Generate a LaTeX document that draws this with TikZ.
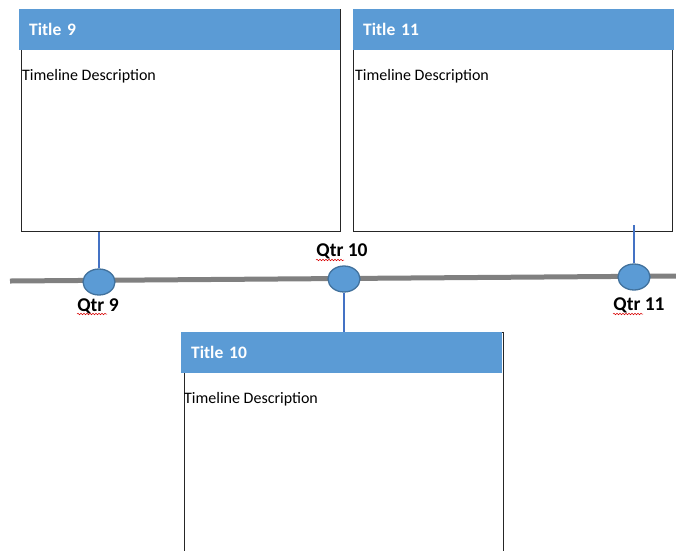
\documentclass[tikz,border=0pt]{standalone}
\usepackage{fontspec}
\setmainfont{Carlito}
\usetikzlibrary{shapes.geometric,decorations.pathmorphing}
\definecolor{hdrblue}{HTML}{5B9BD5}
\definecolor{ringblue}{HTML}{41719C}
\definecolor{stemblue}{HTML}{4472C4}
\definecolor{axisgray}{HTML}{808080}
\tikzset{
  descbox/.style={draw=black!85, line width=0.9pt, minimum width=319pt, minimum height=222pt, anchor=north west, inner sep=0pt},
  header/.style={fill=hdrblue, minimum width=321pt, minimum height=41pt, text width=301pt, inner xsep=10pt, anchor=north west, font=\fontsize{17.5}{19}\selectfont\bfseries, text=white},
  desc/.style={anchor=west, inner sep=0pt, font=\fontsize{16}{18}\selectfont},
  qtr/.style={ellipse, draw=ringblue, line width=1.3pt, fill=hdrblue, minimum width=32pt, minimum height=26pt, inner sep=0pt},
  qlabel/.style={font=\fontsize{19.5}{21}\selectfont\bfseries, inner sep=0pt},
  stem/.style={draw=stemblue, line width=2.2pt},
  squiggle/.style={draw=red!85!black, line width=0.5pt, decorate, decoration={snake, amplitude=0.8pt, segment length=3pt}}
}
\begin{document}
\begin{tikzpicture}[x=1pt,y=-1pt]
\useasboundingbox (0,0) rectangle (676,550);
\clip (0,0) rectangle (676,550);

\node[descbox] (box9) at (21,9) {};
\node[header] (head9) at (19,9) {Title 9};
\node[desc] (desc9) at (22,76) {Timeline Description};

\node[descbox] (box11) at (353,9) {};
\node[header] (head11) at (353,9) {Title 11};
\node[desc] (desc11) at (355,76) {Timeline Description};

\node[descbox, minimum height=240pt] (box10) at (184,332) {};
\node[header] (head10) at (181,332) {Title 10};
\node[desc] (desc10) at (184,399) {Timeline Description};

\coordinate (tstart) at (10,281);
\coordinate (tend) at (676,276);
\draw[axisgray, line width=5pt] (tstart) -- (tend);

\node[qtr] (q9) at (99,282) {};
\node[qtr] (q10) at (344,279) {};
\node[qtr] (q11) at (634,277) {};

\draw[stem] (q9.north) -- (q9.north |- box9.south);
\draw[stem] (q10.south) -- (q10.south |- head10.north);
\coordinate (top11) at (635,225);
\draw[stem] (q11.north) -- (q11.north |- top11);

\node[qlabel] (l9) at (98,306) {Qtr 9};
\node[qlabel] (l10) at (342,251) {Qtr 10};
\node[qlabel] (l11) at (639,305) {Qtr 11};

\draw[squiggle] (77,314) -- (107,314);
\draw[squiggle] (316,260) -- (344,260);
\draw[squiggle] (613,314) -- (643,314);

\end{tikzpicture}
\end{document}
